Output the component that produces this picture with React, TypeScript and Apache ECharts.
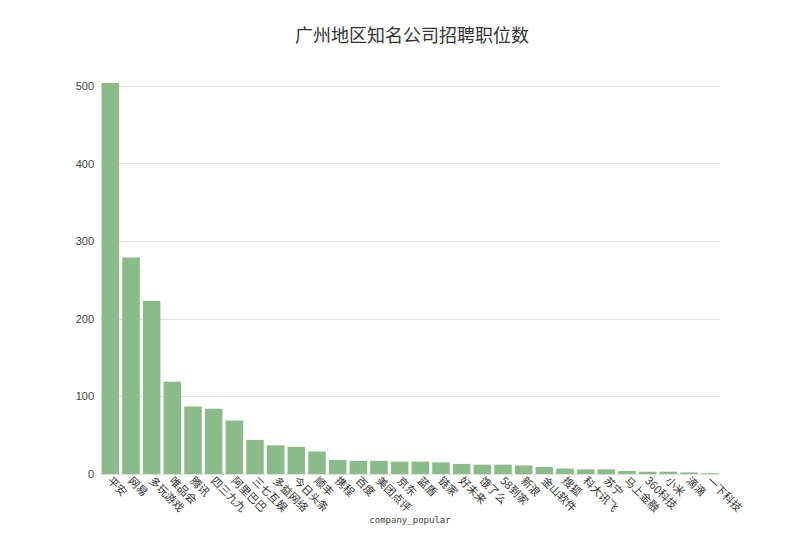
import { useEffect, useRef } from 'react'
import * as echarts from 'echarts'

const companies = [
  '平安', '网易', '多玩游戏', '唯品会', '腾讯', '四三九九', '阿里巴巴', '三七互娱', '多益网络', '今日头条',
  '顺丰', '携程', '百度', '美团点评', '京东', '蓝盾', '链家', '好未来', '饿了么', '58到家',
  '新浪', '金山软件', '搜狐', '科大讯飞', '苏宁', '马上金融', '360科技', '小米', '滴滴', '一下科技'
]
const jobCounts = [
  504, 279, 223, 119, 87, 84, 69, 44, 37, 35,
  29, 18, 17, 17, 16, 16, 15, 13, 12, 12,
  11, 9, 7, 6, 6, 4, 3, 3, 2, 1
]

export default function App() {
  const chartRef = useRef<HTMLDivElement>(null)

  useEffect(() => {
    if (!chartRef.current) return
    const chart = echarts.init(chartRef.current, null, { renderer: 'svg' })

    const option: echarts.EChartsOption = {
      animation: false,
      backgroundColor: '#fff',
      title: {
        text: '广州地区知名公司招聘职位数',
        left: 282,
        top: 12,
        textStyle: {
          fontFamily: 'Noto Sans CJK SC',
          fontSize: 18,
          fontWeight: 'normal',
          color: '#333'
        }
      },
      grid: {
        left: 92,
        right: 72,
        top: 78,
        bottom: 59,
        outerBoundsMode: 'none'
      } as any,
      xAxis: {
        type: 'category',
        data: companies,
        name: 'company_popular',
        nameLocation: 'middle',
        nameGap: 41,
        nameMoveOverlap: false,
        nameTextStyle: {
          fontFamily: 'DejaVu Sans Mono',
          fontSize: 9,
          color: '#444'
        },
        axisLine: { show: false },
        axisTick: { show: false },
        axisLabel: {
          interval: 0,
          rotate: -45,
          margin: 4,
          fontFamily: 'Noto Sans CJK SC',
          fontSize: 11,
          color: '#333'
        }
      } as any,
      yAxis: {
        type: 'value',
        min: 0,
        max: 500,
        interval: 100,
        axisLine: { show: false },
        axisTick: { show: false },
        axisLabel: {
          margin: 6,
          fontFamily: 'Liberation Sans',
          fontSize: 11,
          color: '#444'
        },
        splitLine: { lineStyle: { color: '#e0e0e0' } }
      },
      series: [
        {
          type: 'bar',
          data: jobCounts,
          clip: false,
          barCategoryGap: '15%',
          itemStyle: { color: '#8bba8b' }
        }
      ]
    }

    chart.setOption(option)
    return () => chart.dispose()
  }, [])

  return <div ref={chartRef} style={{ width: 784, height: 525, marginBottom: -8 }} />
}
